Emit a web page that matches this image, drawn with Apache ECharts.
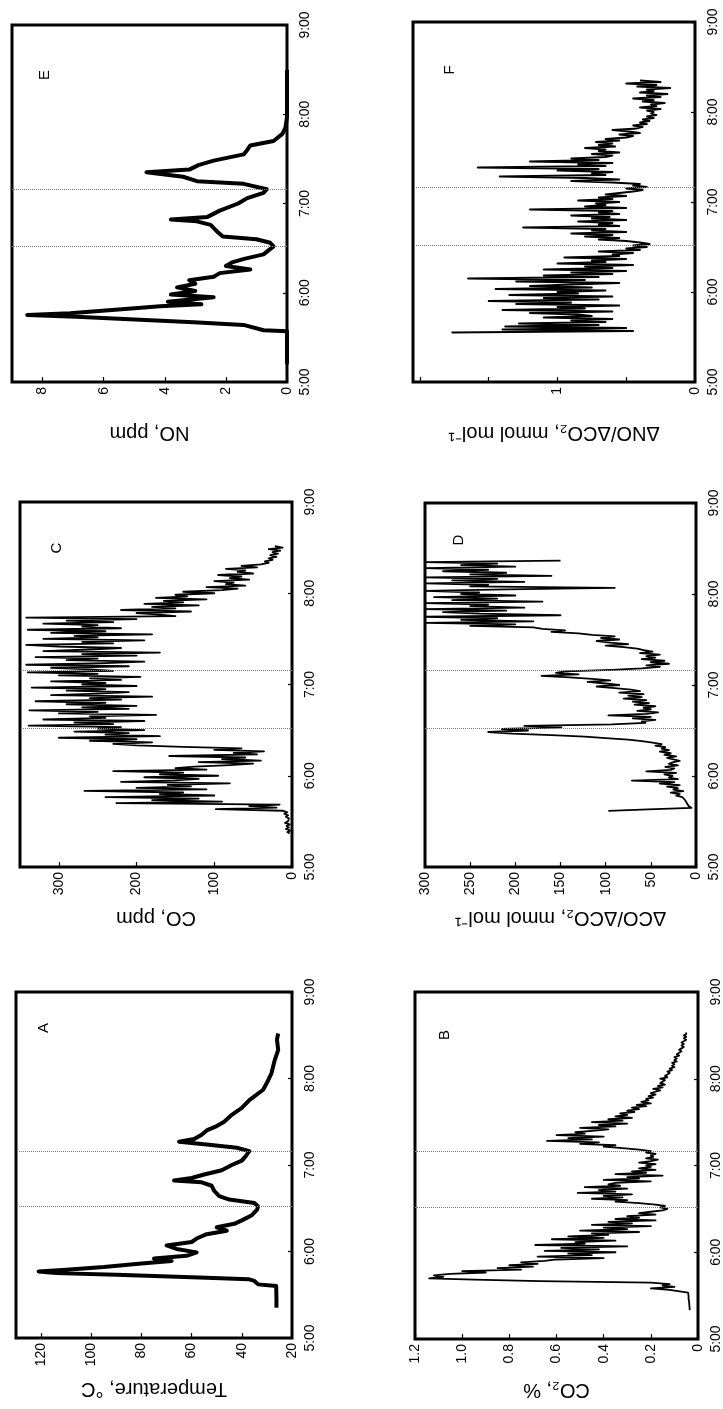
<!DOCTYPE html>
<html>
<head>
<meta charset="utf-8">
<script src="https://cdn.jsdelivr.net/npm/echarts@6/dist/echarts.min.js"></script>
<style>
html,body{margin:0;padding:0;background:#fff;}
#c{width:723px;height:1409px;}
</style>
</head>
<body>
<div id="c"></div>
<script>
// ---------------- DATA (times in decimal hours) ----------------
const timeTicks = [5, 6, 7, 8, 9];
const eventTimes = [6.52, 7.16];            // dotted reference lines

// A: Temperature, °C (irregular samples)
const tempTimes = [5.35,5.45,5.60,5.62,5.66,5.68,5.70,5.73,5.75,5.77,5.79,5.82,5.86,5.89,5.92,5.95,5.99,6.03,6.07,6.11,6.15,6.20,6.24,6.28,6.32,6.36,6.42,6.48,6.52,6.56,6.60,6.64,6.70,6.76,6.80,6.82,6.85,6.89,6.94,7.00,7.05,7.10,7.16,7.20,7.24,7.27,7.30,7.35,7.40,7.45,7.50,7.58,7.66,7.75,7.87,7.95,8.06,8.20,8.33,8.45,8.52];
const tempVals  = [26.2,26.2,26.3,33.5,35,37.4,57,90,114,121,110,95,80,68,75,62,58,66,70,60,58,54,46,50,43,40,36,34,33.5,35,45,49,51,52,56,67,60,55,48,44,40,38.5,37,42,55,65,59,56,54,50,47,44,40,37,31.5,30,28.2,27,25.5,26,25.5];

// E: NO, ppm (irregular samples)
const noTimes = [5.20,5.57,5.58,5.64,5.67,5.73,5.75,5.77,5.85,5.87,5.90,5.95,5.98,6.02,6.06,6.10,6.14,6.18,6.22,6.26,6.30,6.34,6.38,6.43,6.52,6.56,6.60,6.63,6.69,6.76,6.80,6.82,6.85,6.92,7.00,7.06,7.12,7.16,7.22,7.25,7.30,7.35,7.38,7.43,7.48,7.55,7.60,7.65,7.70,7.78,7.85,7.97,8.50];
const noVals  = [0,0,0.77,1.42,3.06,6.9,8.5,7.1,4.15,2.8,3.9,2.4,3.8,3.0,3.6,3.0,3.2,2.4,2.2,1.2,2.0,1.8,1.4,0.77,0.44,0.55,1.0,2.1,2.3,2.5,2.95,3.8,2.6,2.2,1.6,1.3,0.77,0.66,1.42,2.95,3.4,4.6,3.2,2.9,2.4,1.42,1.3,1.2,0.44,0.15,0.05,0,0];

// B: CO2, %  (one value per minute from 5:20)
const co2Start = 5 + 20/60;
const co2Vals = [0.035,0.035,0.036,0.036,0.037,0.037,0.038,0.038,0.04,0.04,0.04,0.041,0.042,0.045,
 0.12,0.2,0.1,0.15,0.12,0.2,
 0.67,0.95,1.14,1.08,1.12,1.05,
 0.9,1.0,0.75,0.85,0.7,0.8,0.68,0.75,0.65,
 0.6,0.4,0.68,0.45,0.55,0.35,0.65,0.42,0.58,0.3,0.69,0.48,0.52,0.35,0.62,0.4,0.55,0.38,
 0.45,0.25,0.5,0.3,0.4,0.2,0.45,0.28,0.38,0.18,0.35,0.25,0.3,0.18,0.25,0.2,
 0.15,0.13,0.16,0.14,0.18,
 0.25,0.35,0.3,0.45,0.32,0.4,0.28,0.51,0.35,0.42,0.3,0.48,0.33,0.38,
 0.35,0.2,0.4,0.25,0.3,0.15,0.35,0.22,0.28,0.18,0.25,0.2,
 0.22,0.18,0.25,0.2,0.17,0.22,0.19,0.2,0.18,0.22,0.2,
 0.25,0.32,0.4,0.35,0.5,0.42,0.64,0.45,0.55,0.4,0.6,0.48,0.52,
 0.45,0.38,0.5,0.35,0.42,0.3,0.45,0.32,0.38,0.28,0.35,0.3,0.33,0.27,
 0.3,0.25,0.28,0.22,0.26,0.2,0.24,0.21,0.22,0.19,0.21,0.18,0.2,
 0.18,0.16,0.19,0.15,0.17,0.14,0.16,0.15,0.14,0.16,0.13,0.14,
 0.13,0.12,0.13,0.11,0.12,0.1,0.11,0.1,0.11,0.09,0.1,0.09,0.1,0.08,
 0.09,0.08,0.07,0.08,0.07,0.06,0.07,0.06,0.07,0.06,0.05,0.06,0.05,0.06,0.05,0.05];

// C: CO, ppm (one value per minute from 5:22)
const coStart = 5 + 22/60;
const coVals = [3,6,2,8,4,7,3,9,5,6,4,8,5,10,6,12,
 98,
 20,55,16,
 226,
 90,180,120,240,100,170,140,267,110,200,130,160,80,220,150,120,190,95,170,140,230,110,150,125,
 80,50,120,40,90,60,158,45,75,36,100,65,
 140,200,
 230,180,260,200,300,170,240,210,280,190,250,220,339,
 230,280,190,320,240,260,175,300,250,338,210,270,200,290,240,330,220,260,180,310,250,210,290,240,335,200,270,240,310,220,260,195,300,250,340,230,
 260,310,210,342,240,190,290,250,330,200,270,170,320,260,220,300,342,230,270,190,320,250,280,180,310,240,340,220,270,250,320,230,290,200,342,
 150,
 170,200,130,220,150,180,120,190,140,165,110,175,135,150,100,140,
 90,70,110,60,85,75,100,55,80,65,95,50,70,60,85,45,65,
 40,30,35,25,30,20,28,18,25,
 15,30,12,22];

// D: ΔCO/ΔCO2, mmol/mol (one value per minute from 5:37)
const dcoStart = 5 + 37/60;
const dcoVals = [97,53,
 5,8,6,10,8,12,10,
 15,22,18,28,14,25,20,32,18,40,24,71,20,30,26,35,22,55,28,24,34,20,30,26,18,
 25,32,22,35,28,40,30,38,34,45,38,48,
 60,75,100,
 123,160,204,230,186,215,149,190,93,56,
 60,45,70,50,97,55,42,65,50,58,45,68,52,
 70,55,80,60,75,58,85,62,72,
 90,110,85,100,120,95,115,
 140,171,130,155,145,
 93,60,40,55,30,
 50,35,60,45,55,40,62,48,58,
 65,80,100,75,95,110,85,105,90,115,
 130,160,145,170,180,
 250,200,300,180,260,220,300,150,240,280,210,300,190,250,230,300,170,270,220,290,200,260,240,300,210,90,250,230,300,190,270,220,300,160,250,210,280,230,300,200,260,220,
 300,150];

// F: ΔNO/ΔCO2, mmol/mol (one value per minute from 5:33)
const dnoStart = 5 + 33/60;
const dnoVals = [1.77,0.45,1.4,0.5,1.38,
 0.7,1.28,0.65,0.9,0.6,1.1,0.75,0.85,
 1.2,0.6,1.4,0.8,1.0,0.55,1.3,0.9,1.5,0.7,1.1,0.6,1.35,0.85,1.0,0.65,1.45,0.75,1.2,0.9,0.55,1.3,0.8,1.65,0.7,1.1,0.6,
 0.9,0.5,1.1,0.6,0.8,0.45,1.0,0.65,0.75,0.5,0.95,0.55,
 0.6,0.45,0.7,0.4,0.5,0.35,0.45,0.33,0.4,
 0.5,0.7,0.55,0.8,0.6,0.9,0.5,0.75,0.65,1.25,0.55,0.7,0.6,0.85,0.5,0.75,0.62,0.9,0.55,0.7,0.6,1.2,0.5,0.8,0.65,0.72,0.55,0.85,0.6,0.7,0.5,0.65,0.55,
 0.45,0.38,0.5,0.35,0.45,0.4,
 0.6,0.9,0.55,0.8,1.42,0.65,0.75,0.6,1.0,0.7,1.58,0.65,0.85,0.6,1.2,0.7,0.9,0.65,
 0.6,0.75,0.55,0.7,0.65,0.8,0.58,0.7,0.6,0.72,0.55,0.65,
 0.5,0.45,0.55,0.4,0.48,0.6,0.42,0.38,0.45,0.35,0.4,0.33,0.38,0.3,0.35,0.28,0.32,0.3,
 0.35,0.25,0.4,0.28,0.32,0.22,0.38,0.3,0.45,0.25,0.35,0.2,0.4,0.3,0.35,0.18,0.42,0.28,0.5,0.25,0.4];

// ---------------- BUILD ----------------
const FONT = 'Liberation Sans, Arial, Helvetica, sans-serif';
const MIN = 1/60;
function fromIrregular(times, vals){ return vals.map((v,i)=>[v, times[i]]); }
function fromMinutes(start, vals){ return vals.map((v,i)=>[v, start + i*MIN]); }

const panels = [
  {letter:'E', lx:45,  ly:75,   grid:{left:12, top:25,  width:275, height:357}, min:0,  max:9,    interval:2,   name:'NO, ppm',
   fmt:v=>String(v), data:fromIrregular(noTimes,noVals), lw:4},
  {letter:'F', lx:450, ly:70,   grid:{left:413,top:22,  width:282, height:360}, min:0,  max:2.05, interval:0.5, name:'ΔNO/ΔCO₂, mmol mol⁻¹',
   fmt:v=>(Math.abs(v)<1e-9?'0':(Math.abs(v-1)<1e-9?'1':'')), data:fromMinutes(dnoStart,dnoVals), lw:1.8},
  {letter:'C', lx:57,  ly:548,  grid:{left:20, top:502, width:272, height:365}, min:0,  max:350,  interval:100, name:'CO, ppm',
   fmt:v=>String(v), data:fromMinutes(coStart,coVals), lw:1.8},
  {letter:'D', lx:459, ly:540,  grid:{left:425,top:503, width:271, height:364}, min:0,  max:300,  interval:50,  name:'ΔCO/ΔCO₂, mmol mol⁻¹',
   fmt:v=>String(v), data:fromMinutes(dcoStart,dcoVals), lw:1.8},
  {letter:'A', lx:44,  ly:1028, grid:{left:16, top:992, width:276, height:346}, min:20, max:130,  interval:20,  name:'Temperature, °C',
   fmt:v=>(v<=120?String(v):''), data:fromIrregular(tempTimes,tempVals), lw:4},
  {letter:'B', lx:445, ly:1035, grid:{left:415,top:992, width:283, height:347}, min:0,  max:1.2,  interval:0.2, name:'CO₂, %',
   fmt:v=>(Math.abs(v)<1e-9?'0':v.toFixed(1)), data:fromMinutes(co2Start,co2Vals), lw:1.8}
];

const option = {
  animation:false,
  backgroundColor:'#fff',
  grid: panels.map(p=>Object.assign({show:true, borderColor:'#000', borderWidth:3, backgroundColor:'transparent', containLabel:false, outerBoundsMode:'none'}, p.grid)),
  xAxis: panels.map((p,i)=>({
    type:'value', gridIndex:i, position:'bottom', inverse:true,
    min:p.min, max:p.max, interval:p.interval,
    axisLine:{show:false},
    axisTick:{show:true, inside:true, length:5, lineStyle:{color:'#000', width:1.2}},
    splitLine:{show:false},
    axisLabel:{rotate:90, margin:5, fontSize:14, fontFamily:FONT, color:'#000', formatter:p.fmt, showMaxLabel: p.max===300 || p.max===1.2},
    name:p.name, nameLocation:'middle', nameGap:41, nameRotate:180,
    nameTextStyle:{fontSize:20, fontFamily:FONT, color:'#000'}
  })),
  yAxis: panels.map((p,i)=>({
    type:'value', gridIndex:i, position:'right',
    min:timeTicks[0], max:timeTicks[timeTicks.length-1], interval:1,
    axisLine:{show:false},
    axisTick:{show:true, inside:true, length:4, lineStyle:{color:'#000', width:1.2}},
    splitLine:{show:false},
    axisLabel:{rotate:90, margin:11, fontSize:14, fontFamily:FONT, color:'#000', formatter:v=>Math.round(v)+':00'}
  })),
  series: panels.map((p,i)=>({
    type:'line', xAxisIndex:i, yAxisIndex:i, data:p.data,
    showSymbol:false, symbol:'none', clip:true,
    lineStyle:{color:'#000', width:p.lw, join:'round'},
    markLine:{silent:true, symbol:['none','none'], label:{show:false},
      lineStyle:{type:'dotted', color:'#808080', width:1},
      data: eventTimes.map(t=>({yAxis:t}))}
  })),
  graphic: panels.map(p=>({
    type:'text', x:p.lx, y:p.ly, rotation:Math.PI/2, silent:true,
    style:{text:p.letter, fontSize:15, fontFamily:FONT, fill:'#000', align:'center', verticalAlign:'middle', textAlign:'center', textVerticalAlign:'middle'}
  }))
};

const chart = echarts.init(document.getElementById('c'), null, {renderer:'canvas'});
chart.setOption(option);
</script>
</body>
</html>
